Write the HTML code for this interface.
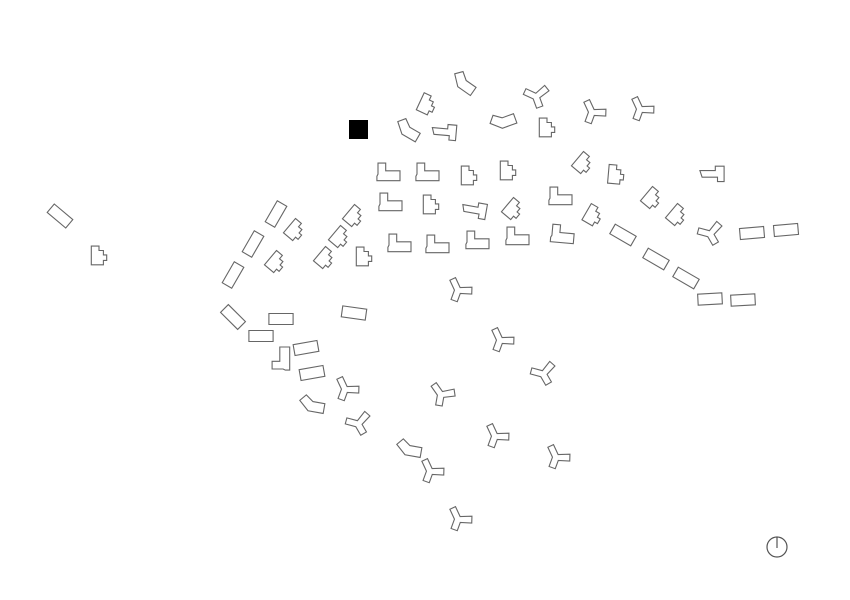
<!DOCTYPE html>
<html><head><meta charset="utf-8">
<style>
html,body{margin:0;padding:0;background:#fff;}
svg{display:block;}
</style></head>
<body>
<svg id="plan" width="850" height="600" viewBox="0 0 850 600" xmlns="http://www.w3.org/2000/svg">
<rect width="850" height="600" fill="#fff"/>
<rect x="349" y="120" width="19" height="19" fill="#000"/>
<g fill="none" stroke="#555" stroke-width="1.2">
<circle cx="777" cy="547" r="10"/>
<line x1="777" y1="537" x2="777" y2="548"/>
</g>
<g id="buildings" fill="none" stroke="#666" stroke-width="1.1" stroke-linejoin="miter"></g>
</svg>
<script>
const shapes = {
  L: "M-10,-9 h7 v7 h13 v9 h-21 v-4 l1,-2 z",
  N: "M-7,-9 h7 v4 h4 v4 h3 v5 h-3 v4 h-11 z",
  R: "M-11,-5 h22 v10 h-22 z",
  Y: "M-1,-3 L-8,-10 L-12,-6 L-5,1 L-5,10 L1,10 L1,2 L11,-1 L9,-7 Z",
  B: "M-12,-4 l5,-6 l7,5 h11 v9 h-14 z",
  C: "M-11,-4 h14 v-4 h8 v14 h-6 v-4 h-14 z"
};
const buildingX = [463,427,538,594,642,407,444,504,547,
389,428,469,508,583,616,712,
391,431,474,513,561,593,652,677,712,752,786,
400,438,478,518,563,623,656,686,710,743,
276,295,354,340,253,276,325,364,233,60,99,
460,233,281,354,261,306,282,312,502,545,347,443,312,360,497,409,558,432,460];
const buildingY = [85,105,96,113,110,132,133,123,128,
173,173,176,171,164,175,175,
203,205,211,210,197,216,199,216,233,233,230,
244,245,241,237,235,235,259,278,299,300,
214,231,217,238,244,263,259,257,275,216,256,
291,317,319,313,336,348,358,373,341,373,390,395,407,423,437,451,458,472,520];
const buildingType = ["B","N","Y","Y","Y","B","C","B","N",
"L","L","N","N","N","N","C",
"L","N","C","N","L","N","N","N","Y","R","R",
"L","L","L","L","L","R","R","R","R","R",
"R","N","N","N","R","N","N","N","R","R","N",
"Y","R","R","R","R","R","L","R","Y","Y","Y","Y","B","Y","Y","B","Y","Y","Y"];
const buildingRot = [35,25,-20,20,20,30,5,-20,0,
0,0,0,0,40,5,0,
0,0,10,40,0,30,40,40,-30,-5,-5,
0,0,0,0,5,30,30,30,-3,-3,
-60,40,40,40,-60,40,40,0,-60,40,0,
20,45,0,8,0,-10,-90,-10,20,-30,20,10,10,-30,20,10,20,20,20];
const g = document.getElementById('buildings');
for (let i = 0; i < buildingX.length; i++) {
  const p = document.createElementNS('http://www.w3.org/2000/svg','path');
  p.setAttribute('d', shapes[buildingType[i]]);
  p.setAttribute('transform', 'translate(' + buildingX[i] + ',' + buildingY[i] + ') rotate(' + buildingRot[i] + ') scale(1.1)');
  p.setAttribute('vector-effect', 'non-scaling-stroke');
  
  
  g.appendChild(p);
}
</script>
</body></html>
